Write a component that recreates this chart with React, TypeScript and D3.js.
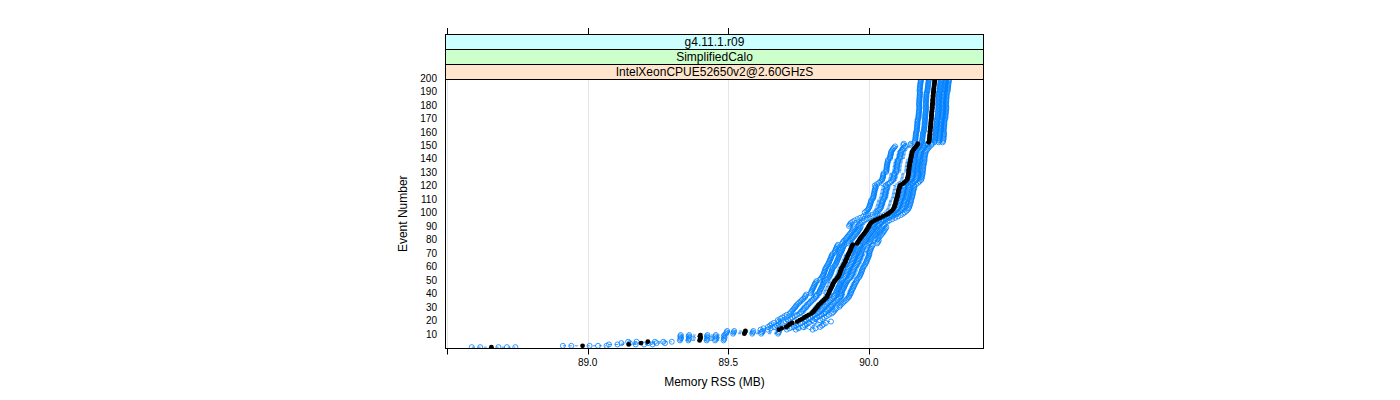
import React from "react";
import * as d3 from "d3";

// Event numbers (categories on the y axis)
const eventNumbers: number[] = d3.range(1, 201);

// Median memory RSS per event (MB), read from the black points
const medianRSS: number[] = [
  88.658, 88.982, 89.146, 89.190, 89.214, 89.398, 89.400, 89.402, 89.399, 89.401,
  89.557, 89.559, 89.561, 89.680, 89.690, 89.706, 89.713, 89.719, 89.727, 89.745,
  89.754, 89.763, 89.770, 89.778, 89.786, 89.796, 89.801, 89.805, 89.809, 89.813,
  89.817, 89.820, 89.825, 89.830, 89.835, 89.840, 89.845, 89.850, 89.852, 89.855,
  89.857, 89.859, 89.861, 89.863, 89.866, 89.868, 89.870, 89.872, 89.875, 89.878,
  89.882, 89.886, 89.890, 89.893, 89.895, 89.897, 89.899, 89.900, 89.902, 89.904,
  89.907, 89.910, 89.913, 89.915, 89.917, 89.919, 89.921, 89.923, 89.925, 89.927,
  89.930, 89.932, 89.934, 89.936, 89.938, 89.940, 89.943, 89.958, 89.961, 89.964,
  89.967, 89.970, 89.974, 89.978, 89.982, 89.986, 89.989, 89.992, 89.995, 89.998,
  90.000, 90.003, 90.006, 90.012, 90.020, 90.030, 90.040, 90.050, 90.060, 90.068,
  90.074, 90.080, 90.085, 90.088, 90.090, 90.092, 90.093, 90.095, 90.096, 90.097,
  90.098, 90.100, 90.101, 90.102, 90.103, 90.104, 90.105, 90.106, 90.108, 90.109,
  90.110, 90.118, 90.125, 90.130, 90.135, 90.137, 90.138, 90.139, 90.140, 90.141,
  90.141, 90.142, 90.142, 90.143, 90.143, 90.144, 90.145, 90.146, 90.147, 90.148,
  90.149, 90.150, 90.151, 90.152, 90.153, 90.154, 90.157, 90.160, 90.164, 90.168,
  90.172, 90.174, 90.212, 90.214, 90.215, 90.215, 90.216, 90.216, 90.217, 90.217,
  90.217, 90.218, 90.218, 90.219, 90.219, 90.220, 90.220, 90.220, 90.221, 90.221,
  90.222, 90.222, 90.222, 90.223, 90.223, 90.224, 90.224, 90.225, 90.225, 90.225,
  90.226, 90.226, 90.227, 90.227, 90.227, 90.228, 90.228, 90.228, 90.229, 90.229,
  90.230, 90.230, 90.231, 90.231, 90.232, 90.232, 90.233, 90.234, 90.234, 90.235,
];

// Per-run deviation from the median (thousandths of MB), one value per block of 10 events
const runAOffsets = [-70, -65, -78, -78, -64, -57, -57, -53, -50, -71, -89, -85, -89, -80, -75, -50, -48, -46, -48, -50];
const runBOffsets = [-40, -40, -42, -40, -35, -32, -30, -30, -28, -38, -48, -45, -50, -44, -40, -25, -22, -22, -24, -22];
const runDOffsets = [25, 28, 22, 24, 25, 22, 24, 20, 20, 15, 14, 16, 15, 14, 12, 20, 20, 22, 20, 21];
const runEOffsets = [55, 60, 45, 48, 45, 44, 45, 42, 40, 32, 30, 32, 30, 30, 28, 36, 38, 40, 38, 40];
const runFOffsets = [85, 120, 72, 78, 78, 75, 75, 71, 64, 53, 53, 53, 50, 50, 48, 50, 48, 50, 48, 50];

const xTickValues = [88.5, 89.0, 89.5, 90.0];
const xTickLabels = ["", "89.0", "89.5", "90.0"];
const yTickValues = [10, 20, 30, 40, 50, 60, 70, 80, 90, 100, 110, 120, 130, 140, 150, 160, 170, 180, 190, 200];
const stripLabels = ["g4.11.1.r09", "SimplifiedCalo", "IntelXeonCPUE52650v2@2.60GHzS"];
const stripColors = ["#ccffff", "#ccffcc", "#ffe5cc"];

const FONT = "'Liberation Sans', Arial, Helvetica, sans-serif";
const BLUE = "#0080ff";

export default function App() {
  const left = 445, right = 984, top = 79, bottom = 348.5;
  const stripH = 15;
  const x = d3.scaleLinear().domain([88.493, 90.409]).range([left, right]);
  const y = d3.scaleLinear().domain([0, 200]).range([bottom, top]);

  const offsetsList = [runAOffsets, runBOffsets, runDOffsets, runEOffsets, runFOffsets];
  const runs = offsetsList.map((off) => medianRSS.map((m, i) => m + off[Math.floor(i / 10)] / 1000));

  const perEvent = eventNumbers.map((e, i) => {
    const vals = runs.map((r) => r[i]).concat([medianRSS[i]]);
    return { e, vals, min: d3.min(vals) as number, max: d3.max(vals) as number };
  });

  return (
    <svg width={1400} height={400} style={{ position: "absolute", left: 0, top: 0, background: "#fff" }} fontFamily={FONT}>
      <defs>
        <clipPath id="panelClip">
          <rect x={left} y={top} width={right - left} height={bottom - top} />
        </clipPath>
      </defs>
      {/* grid */}
      {xTickValues.map((v) => (
        <line key={"g" + v} x1={Math.round(x(v)) + 0.5} x2={Math.round(x(v)) + 0.5} y1={top} y2={bottom} stroke="#e6e6e6" strokeWidth={1} />
      ))}
      {/* data */}
      <g clipPath="url(#panelClip)">
        {perEvent.map((d) => (
          <line key={"l" + d.e} x1={x(d.min)} x2={x(d.max)} y1={y(d.e)} y2={y(d.e)} stroke={BLUE} strokeWidth={0.8} strokeDasharray="3,3" />
        ))}
        {runs.map((r, ri) =>
          r.map((v, i) => (
            <circle key={`c${ri}-${i}`} cx={x(v)} cy={y(eventNumbers[i])} r={2.5} fill="none" stroke={BLUE} strokeWidth={0.8} />
          ))
        )}
        {medianRSS.map((v, i) => (
          <circle key={"m" + i} cx={x(v)} cy={y(eventNumbers[i])} r={2.4} fill="#000" />
        ))}
      </g>
      {/* panel border */}
      <rect x={left + 0.5} y={top + 0.5} width={right - left - 1} height={bottom - top - 0.5} fill="none" stroke="#000" strokeWidth={1} />
      {/* strips */}
      {stripLabels.map((s, i) => {
        const sy = top - stripH * (3 - i);
        return (
          <g key={s}>
            <rect x={left + 0.5} y={sy + 0.5} width={right - left - 1} height={stripH} fill={stripColors[i]} stroke="#000" strokeWidth={1} />
            <text x={(left + right) / 2} y={sy + stripH / 2 + 1} textAnchor="middle" dominantBaseline="middle" fontSize={12} fill="#000">{s}</text>
          </g>
        );
      })}
      {/* x ticks bottom and top */}
      {xTickValues.map((v, i) => (
        <g key={"t" + v}>
          <line x1={Math.round(x(v)) + 0.5} x2={Math.round(x(v)) + 0.5} y1={bottom} y2={bottom + 6} stroke="#000" />
          <line x1={Math.round(x(v)) + 0.5} x2={Math.round(x(v)) + 0.5} y1={top - 3 * stripH} y2={top - 3 * stripH - 6} stroke="#000" />
          {xTickLabels[i] && (
            <text x={x(v)} y={363} textAnchor="middle" dominantBaseline="middle" fontSize={10} fill="#000">{xTickLabels[i]}</text>
          )}
        </g>
      ))}
      {/* y tick labels */}
      {yTickValues.map((v) => (
        <text key={"y" + v} x={437} y={y(v)} textAnchor="end" dominantBaseline="middle" fontSize={10} fill="#000">{v}</text>
      ))}
      {/* axis titles */}
      <text x={(left + right) / 2} y={383} textAnchor="middle" dominantBaseline="middle" fontSize={12} fill="#000">Memory RSS (MB)</text>
      <text transform={`translate(404,${(top + bottom) / 2}) rotate(-90)`} textAnchor="middle" dominantBaseline="middle" fontSize={12} fill="#000">Event Number</text>
    </svg>
  );
}
